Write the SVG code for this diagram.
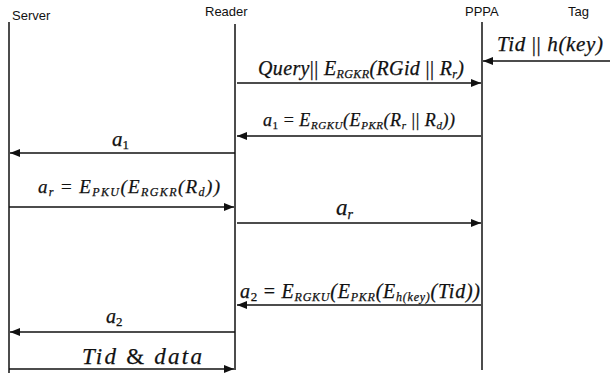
<svg xmlns="http://www.w3.org/2000/svg" width="610" height="373" viewBox="0 0 610 373">
  <style>
    .head { font-family: "Liberation Sans", Arial, sans-serif; font-size: 13px; fill: #111; }
    .math { font-family: "Liberation Serif", "Times New Roman", serif; font-style: italic; fill: #111; stroke: #111; stroke-width: 0.25; }
    .up { font-style: normal; }
    .life { stroke: #111; stroke-width: 1.5; fill: none; }
    .msg { stroke: #111; stroke-width: 1.6; fill: none; marker-end: url(#head); }
  </style>
  <defs>
    <marker id="head" viewBox="0 0 10 8" refX="10" refY="4" markerWidth="10" markerHeight="8" markerUnits="userSpaceOnUse" orient="auto">
      <path d="M0,0 L10,4 L0,8 z" fill="#111"/>
    </marker>
  </defs>

  <rect width="610" height="373" fill="#fff"/>

  <!-- participants and lifelines -->
  <g id="server">
    <text class="head" x="12" y="20">Server</text>
    <line class="life" x1="9" y1="22" x2="9" y2="373"/>
  </g>
  <g id="reader">
    <text class="head" x="205" y="16">Reader</text>
    <line class="life" x1="235" y1="24" x2="235" y2="370"/>
  </g>
  <g id="pppa">
    <text class="head" x="465" y="16">PPPA</text>
    <line class="life" x1="482" y1="22" x2="482" y2="370"/>
  </g>
  <g id="tag">
    <text class="head" x="568" y="16">Tag</text>
  </g>

  <!-- messages -->
  <g id="connectors">
    <line class="msg" x1="610" y1="61" x2="483" y2="61"/>
    <line class="msg" x1="237" y1="83" x2="481" y2="83"/>
    <line class="msg" x1="481" y1="136" x2="237" y2="136"/>
    <line class="msg" x1="235" y1="153" x2="10" y2="153"/>
    <line class="msg" x1="9" y1="207" x2="234" y2="207"/>
    <line class="msg" x1="237" y1="223" x2="481" y2="223"/>
    <line class="msg" x1="481" y1="305" x2="237" y2="305"/>
    <line class="msg" x1="235" y1="332" x2="10" y2="332"/>
    <line class="msg" x1="9" y1="369" x2="234" y2="369"/>
  </g>

  <!-- message labels -->
  <g id="labels">
    <text class="math" x="497" y="51" font-size="21" textLength="106" lengthAdjust="spacing">Tid <tspan class="up">||</tspan> h(key)</text>

    <text class="math" x="258" y="75" font-size="20" textLength="206" lengthAdjust="spacing">Query<tspan class="up">||</tspan> E<tspan font-size="12" dy="3">RGKR</tspan><tspan dy="-3">(RGid </tspan><tspan class="up">||</tspan> R<tspan font-size="12" dy="3">r</tspan><tspan dy="-3">)</tspan></text>

    <text class="math" x="263" y="126" font-size="18" textLength="192" lengthAdjust="spacing">a<tspan class="up" font-size="11" dy="3">1</tspan><tspan class="up" dy="-3"> = </tspan>E<tspan font-size="11" dy="3">RGKU</tspan><tspan dy="-3">(E</tspan><tspan font-size="11" dy="3">PKR</tspan><tspan dy="-3">(R</tspan><tspan font-size="11" dy="3">r</tspan><tspan dy="-3"> </tspan><tspan class="up">||</tspan> R<tspan font-size="11" dy="3">d</tspan><tspan dy="-3">))</tspan></text>

    <text class="math" x="112" y="146" font-size="21">a<tspan class="up" font-size="13" dy="3">1</tspan></text>

    <text class="math" x="38" y="193" font-size="19" textLength="182" lengthAdjust="spacing">a<tspan font-size="12" dy="3">r</tspan><tspan class="up" dy="-3"> = </tspan>E<tspan font-size="12" dy="3">PKU</tspan><tspan dy="-3">(E</tspan><tspan font-size="12" dy="3">RGKR</tspan><tspan dy="-3">(R</tspan><tspan font-size="12" dy="3">d</tspan><tspan dy="-3">))</tspan></text>

    <text class="math" x="336" y="215" font-size="23">a<tspan font-size="14" dy="4">r</tspan></text>

    <text class="math" x="240" y="298" font-size="20" textLength="240" lengthAdjust="spacing">a<tspan class="up" font-size="13" dy="3">2</tspan><tspan class="up" dy="-3"> = </tspan>E<tspan font-size="12" dy="3">RGKU</tspan><tspan dy="-3">(E</tspan><tspan font-size="12" dy="3">PKR</tspan><tspan dy="-3">(E</tspan><tspan font-size="12" dy="3">h(key)</tspan><tspan dy="-3">(Tid))</tspan></text>

    <text class="math" x="106" y="323" font-size="20">a<tspan class="up" font-size="13" dy="3">2</tspan></text>

    <text class="math" x="82" y="364" font-size="23" textLength="120" lengthAdjust="spacing">Tid <tspan class="up">&amp;</tspan> data</text>
  </g>
</svg>
